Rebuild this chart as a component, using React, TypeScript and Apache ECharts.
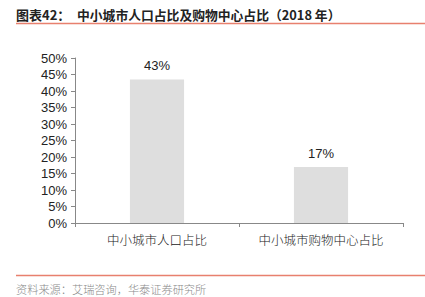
import React, { useEffect, useRef } from "react";
import * as echarts from "echarts";

const categories = ["中小城市人口占比", "中小城市购物中心占比"];
const values = [0.435, 0.17];
const valueLabels = ["43%", "17%"];
const titlePrefix = "图表42：";
const titleText = "中小城市人口占比及购物中心占比（2018 年）";
const sourceText = "资料来源：艾瑞咨询，华泰证券研究所";

export default function App() {
  const ref = useRef<HTMLDivElement>(null);
  useEffect(() => {
    const chart = echarts.init(ref.current!, null, { renderer: "svg" });
    chart.setOption({
      animation: false,
      backgroundColor: "#ffffff",
      grid: { left: 75, right: 22, top: 58, bottom: 74, containLabel: false },
      xAxis: {
        type: "category",
        data: categories,
        axisLine: { lineStyle: { color: "#888888", width: 1 } },
        axisTick: { show: true, length: 4, lineStyle: { color: "#888888" } },
        axisLabel: {
          color: "#222222",
          fontSize: 12.5,
          margin: 10,
          interval: 0,
          hideOverlap: false,
          fontFamily: "Noto Sans CJK SC",
          fontWeight: 300,
        },
      },
      yAxis: {
        type: "value",
        min: 0,
        max: 0.5,
        interval: 0.05,
        axisLine: { show: true, lineStyle: { color: "#888888", width: 1 } },
        axisTick: { show: true, length: 4, lineStyle: { color: "#888888" } },
        splitLine: { show: false },
        axisLabel: {
          color: "#222222",
          fontSize: 13,
          margin: 8,
          fontFamily: "Liberation Sans, Arial",
          formatter: (v: number) => Math.round(v * 100) + "%",
        },
      },
      series: [
        {
          type: "bar",
          data: values,
          barWidth: "33%",
          itemStyle: { color: "#DEDEDE" },
          label: {
            show: true,
            position: "top",
            distance: 7,
            color: "#222222",
            fontSize: 13,
            fontFamily: "Liberation Sans, Arial",
            formatter: (p: any) => valueLabels[p.dataIndex],
          },
        },
      ],
      graphic: [
        {
          type: "text",
          left: 16,
          top: 8,
          style: {
            text: titlePrefix,
            fontSize: 13,
            fontWeight: "bold",
            fill: "#222222",
            fontFamily: "Noto Sans CJK SC",
          },
        },
        {
          type: "text",
          left: 77,
          top: 8,
          style: {
            text: titleText,
            fontSize: 12.8,
            fontWeight: "bold",
            fill: "#222222",
            fontFamily: "Noto Sans CJK SC",
          },
        },
        {
          type: "line",
          shape: { x1: 16, y1: 23.5, x2: 425, y2: 23.5 },
          style: { stroke: "#E8806E", lineWidth: 1.5 },
        },
        {
          type: "line",
          shape: { x1: 16, y1: 275.5, x2: 425, y2: 275.5 },
          style: { stroke: "#E8806E", lineWidth: 1.5 },
        },
        {
          type: "text",
          left: 16,
          top: 283,
          style: {
            text: sourceText,
            fontSize: 11.2,
            fill: "#8a8a8a",
            fontFamily: "Noto Sans CJK SC",
            fontWeight: 300,
          },
        },
      ],
    });
    return () => chart.dispose();
  }, []);
  return <div ref={ref} style={{ width: 425, height: 297, position: "absolute", left: 0, top: 0 }} />;
}
